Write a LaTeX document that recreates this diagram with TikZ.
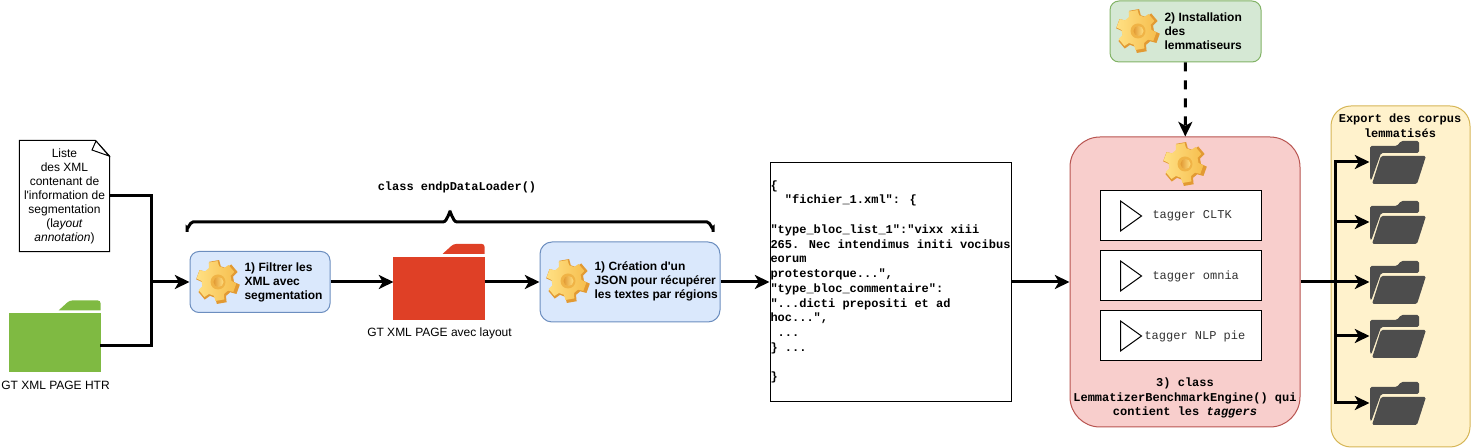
\documentclass[tikz,border=0pt]{standalone}
\usepackage{fontspec}
\usetikzlibrary{positioning,arrows.meta}
\newfontfamily\labelfont{Liberation Sans}
\newfontfamily\codefont{Liberation Mono}
\definecolor{bluefill}{HTML}{DAE8FC}
\definecolor{bluedraw}{HTML}{6C8EBF}
\definecolor{greenfill}{HTML}{D5E8D4}
\definecolor{greendraw}{HTML}{82B366}
\definecolor{redfill}{HTML}{F8CECC}
\definecolor{reddraw}{HTML}{B85450}
\definecolor{yellowfill}{HTML}{FFF2CC}
\definecolor{yellowdraw}{HTML}{D6B656}
\definecolor{foldergreen}{HTML}{7FBA42}
\definecolor{folderred}{HTML}{DF4026}
\definecolor{folderdark}{HTML}{4D4D4D}
\definecolor{gearlight}{HTML}{FFE083}
\definecolor{gearmid}{HTML}{F6BE4E}
\definecolor{geardark}{HTML}{E29A33}
\tikzset{
  gearicon/.pic={
    \fill[geardark] (7:22) \foreach \a in {20,80,...,320}{
        -- (\a-13:22) -- (\a+13:22) -- (\a+20:16) -- (\a+40:16)} -- cycle;
    \shade[left color=gearlight,right color=gearmid,shift={(-1.5,-1)}]
      (7:20) \foreach \a in {20,80,...,320}{
        -- (\a-13:20) -- (\a+13:20) -- (\a+20:15) -- (\a+40:15)} -- cycle;
    \fill[gearmid!70!geardark] (0,0) circle (7.5);
    \shade[left color=geardark,right color=gearlight] (0.5,0) circle (5);
  },
  exporticon/.pic={
    \fill[folderdark,rounded corners=1.2pt] (-28,16) -- (-28,-16) -- (-1,-16) -- (3,-21)
      -- (21,-21) -- (21,-9) -- (-17,-9) -- (-27,19) -- cycle;
    \fill[folderdark,rounded corners=1.2pt] (-17,-6) -- (28,-6) -- (19,22) -- (-26,22) -- cycle;
  }
}
\newcommand{\foldershape}[2]{
  \fill[#2] ([yshift=-9.75pt]#1.north west) rectangle (#1.south east);
  \fill[#2] ([yshift=-7.5pt]#1.north east) -- ++(0,-7) [rounded corners=2pt] -- ++(0,-3) -- ++(-31,0)
    [sharp corners] -- ++(-11,10) -- cycle;
}
\begin{document}
\begin{tikzpicture}[x=0.75pt, y=-0.75pt, node distance=45pt,
    thick,
    flowline/.style={line width=2.25pt},
    flowarrow/.style={line width=2.25pt,-{Stealth[length=11pt,width=10.5pt,inset=3pt]}},
    dashedarrow/.style={flowarrow,dash pattern=on 6.75pt off 6.75pt},
    stepbox/.style={rounded corners=6.75pt,line width=0.75pt,minimum height=45.75pt},
    blockbox/.style={stepbox,draw=bluedraw,fill=bluefill},
    steptext/.style={inner sep=0pt,align=left,font=\labelfont\bfseries\fontsize{9}{10.5}\selectfont},
    plainlabel/.style={align=center,inner sep=0pt,font=\labelfont\fontsize{9}{10.5}\selectfont},
    codelabel/.style={align=center,inner sep=0pt,font=\codefont\bfseries\fontsize{9}{11}\selectfont},
    taggerbox/.style={draw=black,fill=white,line width=0.75pt,minimum width=120.75pt,minimum height=37.5pt},
    taggertext/.style={inner sep=0pt,text=black!80,font=\codefont\fontsize{9}{11}\selectfont},
    foldernode/.style={inner sep=0pt,minimum width=67.5pt},
    exportnode/.style={inner sep=0pt,minimum width=42pt,minimum height=30pt}]

	\useasboundingbox (0,0) rectangle (1472,448);

	% left column
	\node[plainlabel,minimum width=66.75pt,minimum height=82.5pt] (note) at (64.5,196) {Liste\\des XML\\contenant de\\l'information de\\segmentation\\(l\textit{ayout}\\\textit{annotation})};
	\draw[line width=0.75pt,fill=none] (note.north west) -- ++(76,0) -- (note.north east |- 0,156) -- (note.south east) -- (note.south west) -- cycle;
	\draw[line width=0.75pt,fill=white] (96,141) -- (109,156) -- (92,150) -- cycle;

	\node[foldernode,minimum height=52.5pt] (htrfolder) at (55,336) {};
	\foldershape{htrfolder}{foldergreen}
	\node[plainlabel] (htrlabel) at (55.5,385) {GT XML PAGE HTR};
	\coordinate (htrout) at (100,346);
	\coordinate (merge) at (151,282);

	% loader steps
	\node[blockbox,minimum width=105pt] (filter) at (260,282) {};
	\coordinate (filtergear) at (218,282);
	\pic at (filtergear) {gearicon};
	\node[steptext,right=19.5pt of filtergear] (filtertext) {1) Filtrer les\\XML avec\\segmentation};

	\node[foldernode,minimum height=56.25pt] (layoutfolder) at (439,282) {};
	\foldershape{layoutfolder}{folderred}
	\node[plainlabel] (layoutlabel) at (439.5,333) {GT XML PAGE avec layout};

	\node[blockbox,minimum width=135pt,minimum height=60pt,rounded corners=9pt] (json) at (630,282) {};
	\coordinate (jsongear) at (568,281);
	\pic at (jsongear) {gearicon};
	\node[steptext,right=19.5pt of jsongear] (jsontext) {1) Cr\'eation d'un\\JSON pour r\'ecup\'erer\\les textes par r\'egions};

	\coordinate (braceleft) at (187,232);
	\coordinate (braceright) at (713,232);
	\coordinate (bracetip) at (450,213);
	\draw[flowline] (braceleft) -- ++(0,-4) to[out=-90,in=180] (193,222) -- (443,222) to[out=0,in=90] (bracetip)
	    to[out=90,in=180] (457,222) -- (707,222) to[out=0,in=-90] (713,228) -- (braceright);
	\node[codelabel] (loaderlabel) at (457,187) {class endpDataLoader()};

	% sample output
	\node[draw=black,fill=white,line width=0.75pt,minimum width=180.75pt,minimum height=179.25pt,text width=180pt,inner sep=0pt,align=flush left,font=\codefont\bfseries\fontsize{9}{11.06}\selectfont] (sample) at (890.5,282)
	  {\{\\~~"fichier\_1.xml": \{\\~\\"type\_bloc\_list\_1":"vixx xiii\\265. Nec intendimus initi vocibus\\eorum\\protestorque...",\\"type\_bloc\_commentaire":\\"...dicti prepositi et ad\\hoc...",\\~...\\\} ...\\~\\\}};

	% lemmatizer engine
	\node[draw=greendraw,fill=greenfill,stepbox,minimum width=113.25pt] (install) at (1185.5,31.5) {};
	\coordinate (installgear) at (1138,31);
	\pic at (installgear) {gearicon};
	\node[steptext,right=19.5pt of installgear] (installtext) {2) Installation\\des\\lemmatiseurs};

	\node[draw=reddraw,fill=redfill,line width=0.75pt,rounded corners=22.5pt,minimum width=172.5pt,minimum height=217.5pt] (engine) at (1185,282) {};
	\coordinate (enginegear) at (1185,164);
	\pic at (enginegear) {gearicon};

	\node[taggerbox] (tagger1) at (1180.5,216) {};
	\node[taggerbox] (tagger2) [below of=tagger1] {};
	\node[taggerbox] (tagger3) [below of=tagger2] {};
	\foreach \t in {1,2,3}{
	  \draw[line width=0.75pt] ([xshift=-45pt,yshift=11.25pt]tagger\t.center) -- ++(15.75pt,-11.25pt) -- ++(-15.75pt,-11.25pt) -- cycle;
	}
	\node[taggertext,anchor=west] (taggertext1) at (1152,216) {tagger CLTK};
	\node[taggertext,anchor=west] (taggertext2) at (1152,276) {tagger omnia};
	\node[taggertext,anchor=west] (taggertext3) at (1144,336) {tagger NLP pie};
	\node[codelabel] (enginelabel) at (1185,398) {3) class\\LemmatizerBenchmarkEngine() qui\\contient les \textit{taggers}};

	% export column
	\node[draw=yellowdraw,fill=yellowfill,line width=0.75pt,rounded corners=15pt,minimum width=104.25pt,minimum height=255.75pt] (export) at (1400.5,276.5) {};
	\node[codelabel] (exportlabel) at (1400,126) {Export des corpus\\lemmatis\'es};
	\node[exportnode] (folder1) at (1398,162) {};
	\node[exportnode,node distance=45pt] (folder2) [below of=folder1] {};
	\node[exportnode,node distance=45pt] (folder3) [below of=folder2] {};
	\node[exportnode,node distance=40.5pt] (folder4) [below of=folder3] {};
	\node[exportnode,node distance=50.25pt] (folder5) [below of=folder4] {};
	\foreach \f in {1,...,5}{
	  \pic at (folder\f) {exporticon};
	}
	\coordinate (split) at (1335,282);

	% connectors
	\draw[flowline] (note.east) -| (merge);
	\draw[flowline] (htrout) -| (merge);
	\path[flowarrow]
	  (merge) edge (filter)
	  (filter) edge (layoutfolder)
	  (layoutfolder) edge (json)
	  (json) edge (sample)
	  (sample) edge (engine)
	  (engine) edge (folder3)
	  ;
	\draw[dashedarrow] (install) -- (engine);
	\draw[flowarrow] (split) |- (folder1);
	\draw[flowarrow] (split) |- (folder2);
	\draw[flowarrow] (split) |- (folder4);
	\draw[flowarrow] (split) |- (folder5);

\end{tikzpicture}
\end{document}
